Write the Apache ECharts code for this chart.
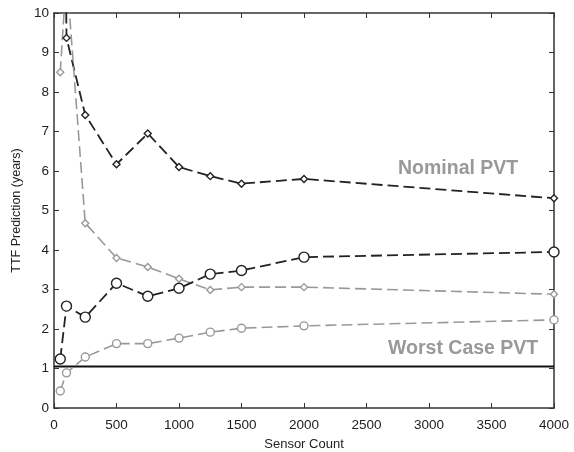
<!DOCTYPE html>
<html><head><meta charset="utf-8">
<script src="https://cdn.jsdelivr.net/npm/echarts@6/dist/echarts.min.js"></script>
<style>html,body{margin:0;padding:0;background:#fff}#c{width:574px;height:452px}</style>
</head><body><div id="c"></div>
<script>
const sensorCounts = [50, 100, 250, 500, 750, 1000, 1250, 1500, 2000, 4000];
const nominalUpper = [25, 9.37, 7.42, 6.17, 6.95, 6.1, 5.87, 5.68, 5.8, 5.31];
const nominalLower = [8.5, 11, 4.68, 3.8, 3.57, 3.27, 2.99, 3.06, 3.06, 2.88];
const worstUpper = [1.24, 2.58, 2.3, 3.16, 2.83, 3.03, 3.39, 3.48, 3.82, 3.95];
const worstLower = [0.43, 0.89, 1.29, 1.63, 1.63, 1.77, 1.92, 2.02, 2.08, 2.23];
const worstCaseLevel = 1.05;
const xTicks = [0, 500, 1000, 1500, 2000, 2500, 3000, 3500, 4000];
const yTicks = [0, 1, 2, 3, 4, 5, 6, 7, 8, 9, 10];

const pairs = arr => sensorCounts.map((x, i) => [x, arr[i]]);
const dark = '#222', gray = '#999';
function mk(data, color, symbol, size, w) {
  return {
    type: 'line', data: pairs(data), clip: true,
    symbol: symbol, symbolSize: size, showAllSymbol: true,
    lineStyle: { color: color, width: w, type: [11, 5] },
    itemStyle: { color: '#fff', borderColor: color, borderWidth: 1.4 },
    emphasis: { disabled: true }, z: 3
  };
}
const chart = echarts.init(document.getElementById('c'));
const axisLine = { show: true, onZero: false, lineStyle: { color: '#333', width: 1.5 } };
const tick = { show: true, inside: true, length: 5, lineStyle: { color: '#333', width: 1 } };
const font = 'Liberation Sans, Arial';
chart.setOption({
  animation: false,
  grid: { left: 54, right: 20, top: 13, bottom: 44, show: false, containLabel: false, outerBoundsMode: 'none' },
  xAxis: [
    { type: 'value', min: 0, max: 4000, interval: 500, axisLine, axisTick: tick,
      splitLine: { show: false },
      axisLabel: { color: '#222', fontSize: 13.5, fontFamily: font, margin: 10,
        formatter: v => xTicks.includes(v) ? String(v) : '' },
      name: 'Sensor Count', nameLocation: 'middle', nameGap: 30,
      nameTextStyle: { fontSize: 13, color: '#222', fontFamily: font } },
    { type: 'value', position: 'top', min: 0, max: 4000, interval: 500, axisLine, axisTick: tick,
      axisLabel: { show: false }, splitLine: { show: false } }
  ],
  yAxis: [
    { type: 'value', min: 0, max: 10, interval: 1, axisLine, axisTick: tick,
      splitLine: { show: false },
      axisLabel: { color: '#222', fontSize: 13.5, fontFamily: font, margin: 5,
        formatter: v => yTicks.includes(v) ? String(v) : '' },
      name: 'TTF Prediction (years)', nameLocation: 'middle', nameGap: 18,
      nameTextStyle: { fontSize: 12.5, color: '#222', fontFamily: font } },
    { type: 'value', position: 'right', min: 0, max: 10, interval: 1, axisLine, axisTick: tick,
      axisLabel: { show: false }, splitLine: { show: false } }
  ],
  series: [
    mk(nominalUpper, dark, 'diamond', 7, 1.8),
    mk(nominalLower, gray, 'diamond', 7, 1.6),
    mk(worstUpper, dark, 'circle', 10, 1.8),
    mk(worstLower, gray, 'circle', 8, 1.6),
    { type: 'line', data: [[0, worstCaseLevel], [4000, worstCaseLevel]], symbol: 'none',
      lineStyle: { color: '#111', width: 2 }, z: 2 }
  ],
  graphic: [
    { type: 'text', left: 398, top: 159, style: { text: 'Nominal PVT', fill: '#999',
      font: 'bold 19.5px "Liberation Sans", Arial' } },
    { type: 'text', left: 388, top: 339, style: { text: 'Worst Case PVT', fill: '#999',
      font: 'bold 19.5px "Liberation Sans", Arial' } }
  ]
});
</script></body></html>
